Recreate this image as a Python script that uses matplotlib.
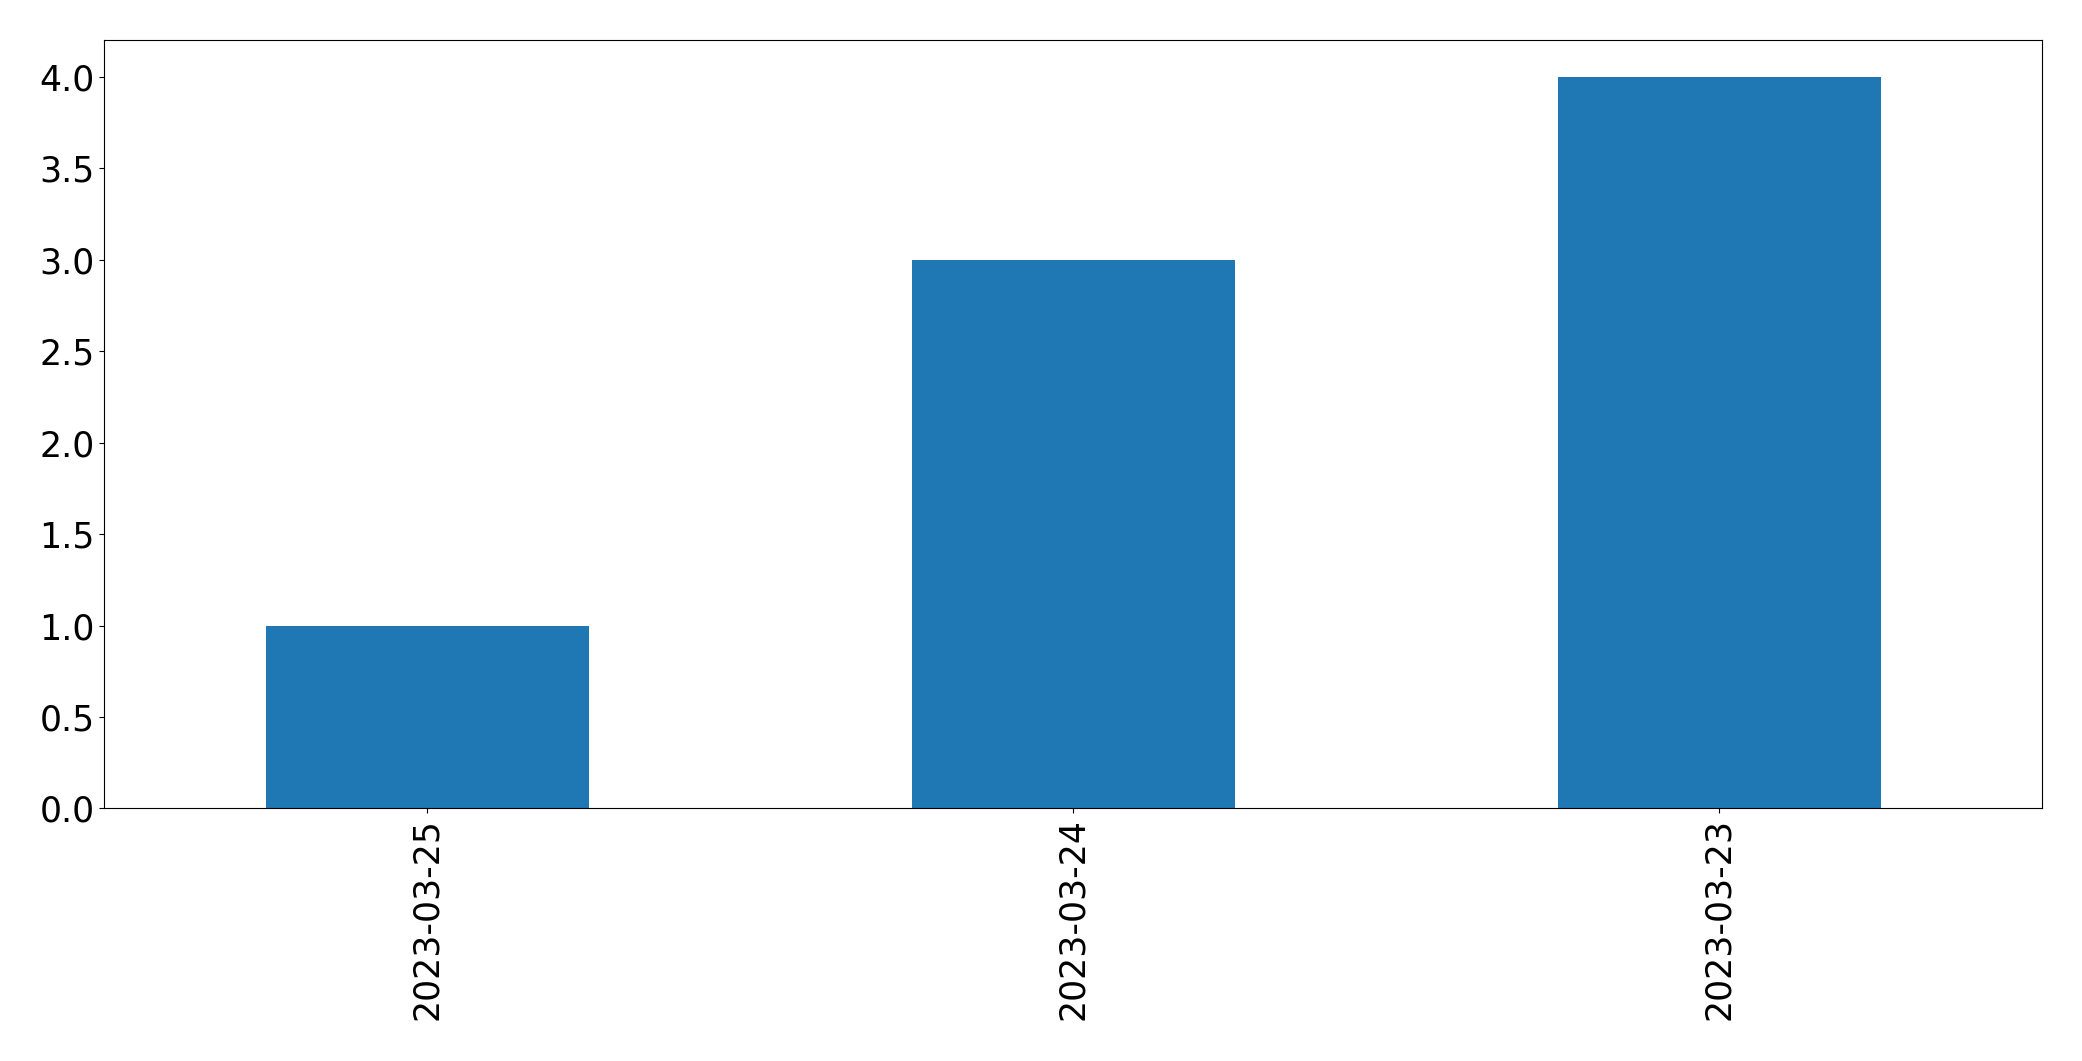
import pandas as pd
import matplotlib.pyplot as plt

# значения по датам
dates = ['2023-03-25', '2023-03-24', '2023-03-23']
counts = [1, 3, 4]

s = pd.Series(counts, index=dates)

fig, ax = plt.subplots(figsize=(20.82, 10.61), dpi=100)
s.plot(kind='bar', ax=ax, color='#1f77b4')
ax.tick_params(axis='both', labelsize=25)
fig.subplots_adjust(left=0.05, right=0.981, top=0.962, bottom=0.238)

plt.savefig('out.png')
